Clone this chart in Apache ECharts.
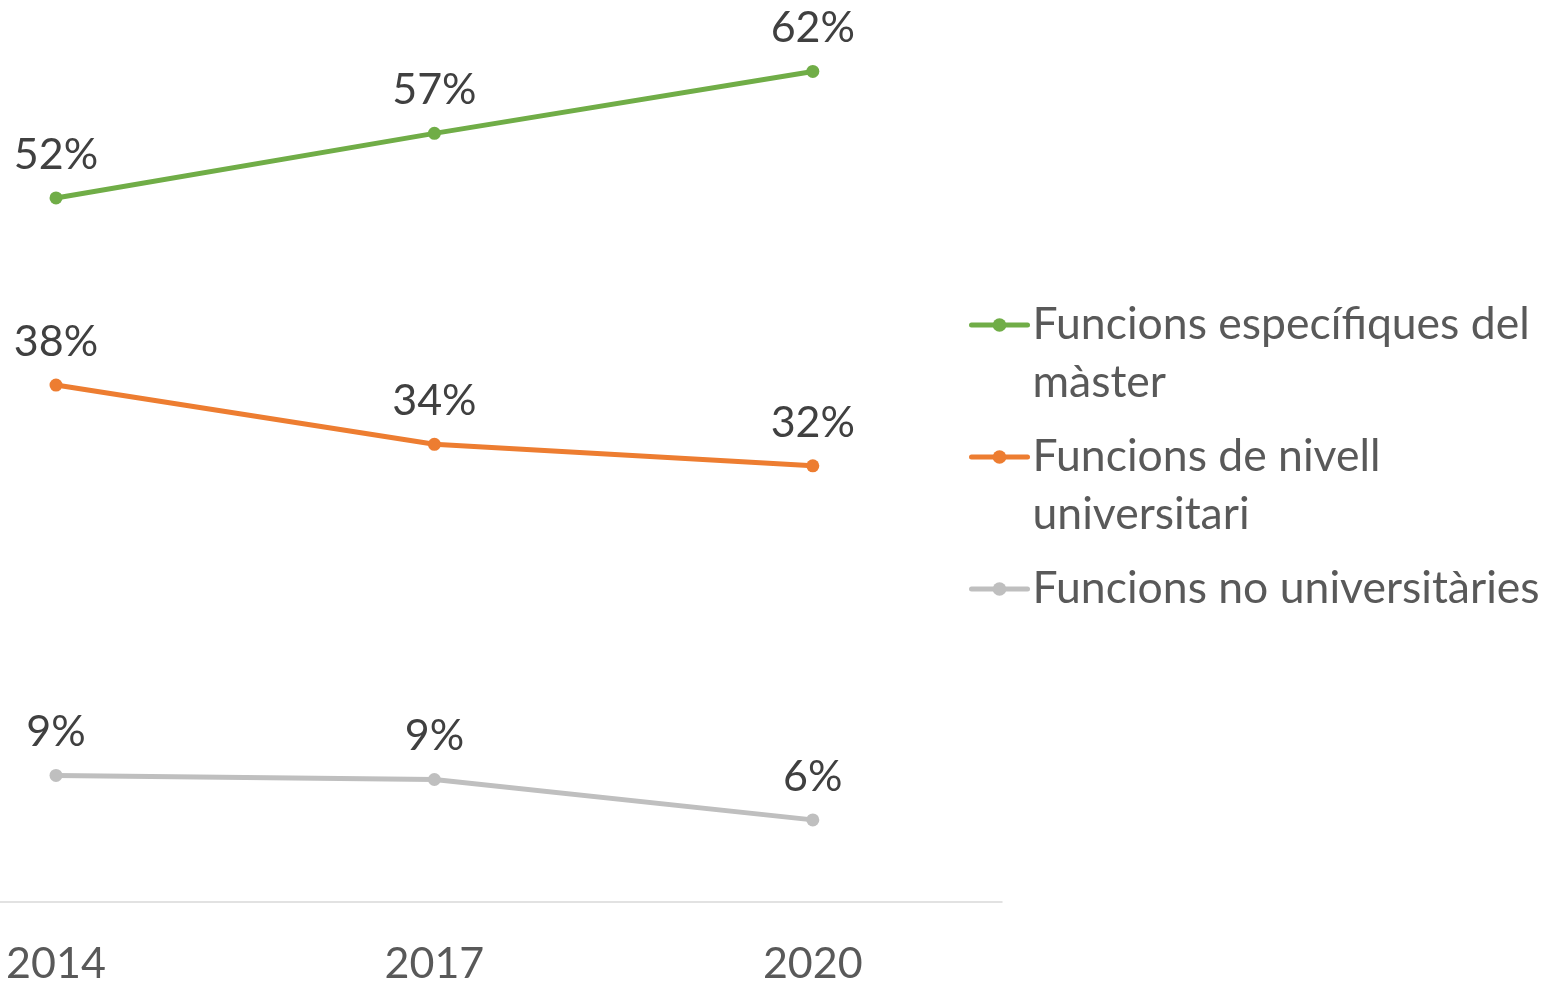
<!DOCTYPE html>
<html>
<head>
<meta charset="utf-8">
<script src="https://cdn.jsdelivr.net/npm/echarts@6/dist/echarts.min.js"></script>
<style>html,body{margin:0;padding:0;background:#fff;}#c{width:1558px;height:982px;}</style>
</head>
<body>
<div id="c"></div>
<script>
const years = [2014, 2017, 2020];
const yearLabels = ['2014', '2017', '2020'];
const seriesNames = ['Funcions específiques del màster', 'Funcions de nivell universitari', 'Funcions no universitàries'];
const legendLabels = ['\nFuncions específiques del\nmàster', '\nFuncions de nivell\nuniversitari', 'Funcions no universitàries'];
const especifiques = [52.3, 57.1, 61.7];
const nivellUniv = [38.4, 34.0, 32.4];
const noUniv = [9.4, 9.1, 6.1];
const colors = ['#70AD47', '#ED7D31', '#BFBFBF'];

const FONT = 'Lato';
const FS = 43;
const LFS = 44.5;
const chart = echarts.init(document.getElementById('c'));
const values = [especifiques, nivellUniv, noUniv];

function mkSeries(i) {
  return {
    name: seriesNames[i],
    type: 'line',
    data: years.map((y, k) => [y, values[i][k]]),
    symbol: 'circle',
    symbolSize: 13,
    lineStyle: { width: 5, color: colors[i], cap: 'round' },
    itemStyle: { color: colors[i] },
    label: {
      show: true, position: 'top', distance: 15,
      formatter: p => Math.round(p.value[1]) + '%',
      color: '#404040', fontFamily: FONT, fontSize: FS
    },
    emphasis: { disabled: true },
    animation: false
  };
}

const legendTops = [238, 370, 560];

chart.setOption({
  animation: false,
  grid: { left: 0, right: 556, top: 27, bottom: 80, containLabel: false, outerBoundsMode: 'none' },
  xAxis: {
    type: 'value', min: 2013.556, max: 2021.5,
    splitLine: { show: false },
    axisLine: { show: true, lineStyle: { color: '#D9D9D9', width: 1.5 } },
    axisTick: { show: false },
    axisLabel: {
      customValues: years,
      formatter: v => yearLabels[years.indexOf(Math.round(v))] || '',
      color: '#595959', fontFamily: FONT, fontSize: FS, margin: 41
    }
  },
  yAxis: { type: 'value', min: 0, max: 65, show: false, splitLine: { show: false } },
  legend: [0, 1, 2].map(i => ({
    data: [seriesNames[i]],
    left: 969, top: legendTops[i], orient: 'vertical', padding: 0,
    itemWidth: 56, itemHeight: 17,
    lineStyle: { width: 5, cap: 'round' },
    formatter: () => legendLabels[i],
    selectedMode: false,
    textStyle: { color: '#595959', fontFamily: FONT, fontSize: LFS, lineHeight: 58 }
  })),
  series: [0, 1, 2].map(mkSeries)
});
</script>
</body>
</html>
